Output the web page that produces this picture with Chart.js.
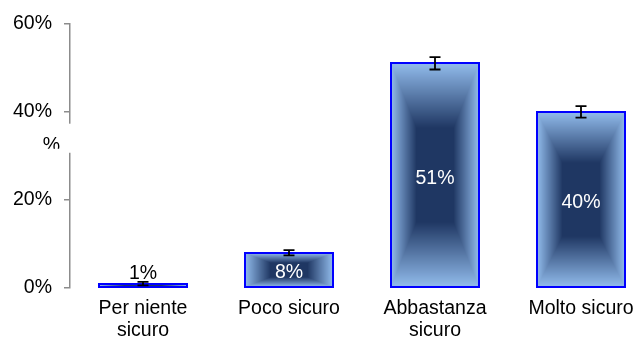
<!DOCTYPE html>
<html>
<head>
<meta charset="utf-8">
<script src="https://cdn.jsdelivr.net/npm/chart.js@4.4.1/dist/chart.umd.min.js"></script>
<style>
  html, body { margin: 0; padding: 0; background: #fff; overflow: hidden; }
  #wrap { width: 641px; height: 338px; overflow: hidden; }
  canvas { display: block; }
</style>
</head>
<body>
<div id="wrap"><canvas id="chart" width="655" height="338"></canvas></div>
<script>
// dati del grafico
const categorie = [['Per niente', 'sicuro'], ['Poco sicuro'], ['Abbastanza', 'sicuro'], ['Molto sicuro']];
const valori = [1, 8, 51, 40];
const errori = [0.4, 0.6, 1.4, 1.3];
const tickY = [0, 20, 40, 60];

const FONT = 'Liberation Sans, Arial, sans-serif';
const SIZE = 19.5;
const chiaro = [146, 188, 236];
const scuro = [31, 55, 99];

// riempimento a gradiente rettangolare dal centro + bordo blu
const gradientePlugin = {
    id: 'gradiente',
    beforeDatasetsDraw(chart) {
        const ctx = chart.ctx;
        chart.getDatasetMeta(0).data.forEach(bar => {
            const p = bar.getProps(['x', 'y', 'base', 'width'], true);
            const left = Math.round(p.x - p.width / 2);
            const right = Math.round(p.x + p.width / 2);
            const top = Math.round(Math.min(p.y, p.base));
            const bottom = Math.round(Math.max(p.y, p.base));
            const w = right - left, h = bottom - top;
            if (w <= 0 || h <= 0) return;
            const off = document.createElement('canvas');
            off.width = w; off.height = h;
            const octx = off.getContext('2d');
            const img = octx.createImageData(w, h);
            const hw = w / 2, hh = h / 2;
            for (let j = 0; j < h; j++) {
                for (let i = 0; i < w; i++) {
                    const dx = Math.abs(i + 0.5 - hw) / hw;
                    const dy = Math.abs(j + 0.5 - hh) / hh;
                    let t = Math.max(dx, dy);
                    t = Math.min(1, Math.max(0, (t - 0.42) / 0.58));
                    const k = (j * w + i) * 4;
                    img.data[k] = scuro[0] + (chiaro[0] - scuro[0]) * t;
                    img.data[k + 1] = scuro[1] + (chiaro[1] - scuro[1]) * t;
                    img.data[k + 2] = scuro[2] + (chiaro[2] - scuro[2]) * t;
                    img.data[k + 3] = 255;
                }
            }
            octx.putImageData(img, 0, 0);
            ctx.drawImage(off, left, top);
            ctx.save();
            ctx.strokeStyle = '#0000ff';
            ctx.lineWidth = 2;
            ctx.strokeRect(left, top, w, h);
            ctx.restore();
        });
    }
};

// barre di errore ed etichette
const etichettePlugin = {
    id: 'etichette',
    afterDatasetsDraw(chart) {
        const ctx = chart.ctx;
        const y = chart.scales.y;
        ctx.save();
        chart.getDatasetMeta(0).data.forEach((bar, i) => {
            const yt = y.getPixelForValue(valori[i] + errori[i]);
            const yb = y.getPixelForValue(valori[i] - errori[i]);
            ctx.strokeStyle = '#000';
            ctx.lineWidth = 1.8;
            ctx.beginPath();
            ctx.moveTo(bar.x, yt); ctx.lineTo(bar.x, yb);
            ctx.moveTo(bar.x - 5.5, yt); ctx.lineTo(bar.x + 5.5, yt);
            ctx.moveTo(bar.x - 5.5, yb); ctx.lineTo(bar.x + 5.5, yb);
            ctx.stroke();

            ctx.font = SIZE + 'px ' + FONT;
            ctx.textAlign = 'center';
            ctx.textBaseline = 'middle';
            const alt = bar.base - bar.y;
            if (alt < 20) {
                ctx.fillStyle = '#000';
                ctx.fillText(valori[i] + '%', bar.x, bar.y - 10);
            } else {
                ctx.fillStyle = '#fff';
                ctx.fillText(valori[i] + '%', bar.x, (bar.y + bar.base) / 2 + 3);
            }
        });
        ctx.restore();
    },
    afterDraw(chart) {
        // interruzione dell'asse
        const ctx = chart.ctx;
        const y = chart.scales.y;
        const y1 = y.getPixelForValue(37.3);
        const y2 = y.getPixelForValue(30.7);
        ctx.save();
        ctx.fillStyle = '#fff';
        ctx.fillRect(y.right - 4, y1, 8, y2 - y1);
        ctx.beginPath();
        ctx.rect(0, y1, y.right - 4, y.getPixelForValue(31.6) - y1);
        ctx.clip();
        ctx.fillStyle = '#000';
        ctx.font = SIZE + 'px ' + FONT;
        ctx.textAlign = 'right';
        ctx.textBaseline = 'alphabetic';
        ctx.fillText('%', y.right - 10, y.getPixelForValue(31.0));
        ctx.restore();
    }
};

new Chart(document.getElementById('chart'), {
    type: 'bar',
    data: {
        labels: categorie,
        datasets: [{
            data: valori,
            backgroundColor: 'rgba(0,0,0,0)',
            borderWidth: 0,
            barPercentage: 0.6,
            categoryPercentage: 1
        }]
    },
    options: {
        responsive: false,
        animation: false,
        layout: { padding: { top: 23, left: 0, right: 1, bottom: 0 } },
        plugins: { legend: { display: false }, tooltip: { enabled: false } },
        scales: {
            x: {
                grid: { display: false, drawTicks: false },
                border: { display: false },
                ticks: {
                    color: '#000',
                    padding: 10,
                    maxRotation: 0,
                    font: { family: FONT, size: SIZE, lineHeight: 1.1 }
                },
                afterFit(scale) { scale.height = 50; }
            },
            y: {
                min: 0,
                max: 60,
                afterBuildTicks(scale) { scale.ticks = tickY.map(v => ({ value: v })); },
                grid: { drawOnChartArea: false, color: '#8c8c8c', tickLength: 6, lineWidth: 1.5 },
                border: { color: '#8c8c8c', width: 1.5 },
                ticks: {
                    color: '#000',
                    padding: 12,
                    font: { family: FONT, size: SIZE },
                    callback: v => v + '%'
                },
                afterFit(scale) { scale.width = 70; }
            }
        }
    },
    plugins: [gradientePlugin, etichettePlugin]
});
</script>
</body>
</html>
